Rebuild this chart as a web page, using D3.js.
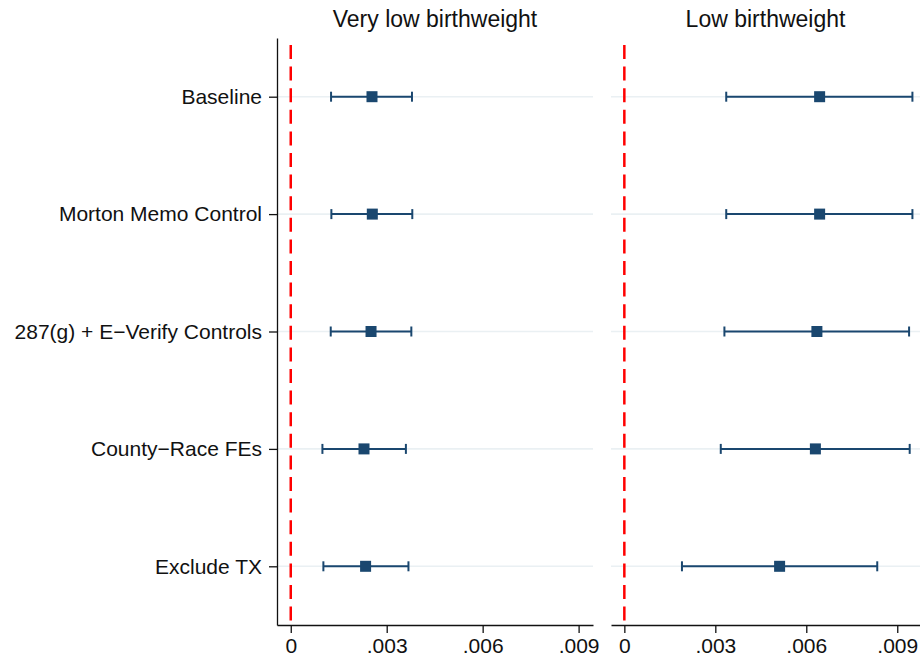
<html lang="en">
<head>
  <title>Birthweight Coefficients</title>
  <meta charset="utf-8">
  <script src="https://cdn.jsdelivr.net/npm/d3@7"></script>
  <style>
    body { margin: 0; background: white; }
    svg text { font-family: 'Liberation Sans', Arial, Helvetica, sans-serif; fill: #111; }
    .panel_title { font-size: 23px; text-anchor: middle; }
    .axis text { font-size: 21px; fill: #111; }
    .axis path, .axis line { stroke: #111; stroke-width: 1.3; }
  </style>
</head>

<body>
  <svg id = 'canvas' width = '920' height = '662'></svg>
</body>

<script>

// specifications (rows), top to bottom
var specs = ['Baseline', 'Morton Memo Control', '287(g) + E\u2212Verify Controls', 'County\u2212Race FEs', 'Exclude TX'];

// Very low birthweight: point estimate and CI bounds
var vlbw_est = [0.00254, 0.00255, 0.00251, 0.00229, 0.00234];
var vlbw_lo  = [0.00126, 0.00127, 0.00125, 0.00099, 0.00102];
var vlbw_hi  = [0.00379, 0.00380, 0.00377, 0.00360, 0.00368];

// Low birthweight: point estimate and CI bounds
var lbw_est = [0.00644, 0.00644, 0.00635, 0.00630, 0.00512];
var lbw_lo  = [0.00336, 0.00336, 0.00330, 0.00318, 0.00190];
var lbw_hi  = [0.00950, 0.00950, 0.00939, 0.00941, 0.00834];

var x_ticks = [0, 0.003, 0.006, 0.009];
var panel_titles = ['Very low birthweight', 'Low birthweight'];

var navy = '#1a476f';

/*******************************************************************************/

var svg = d3.select('#canvas');
var plot_top = 38, plot_bottom = 625;

var y_scale = d3.scalePoint().domain(specs).range([plot_top, plot_bottom]).padding(0.5);

var fmt = function(d){ return d === 0 ? '0' : d3.format('.3f')(d).replace(/^0/, ''); };

function rowsOf(est, lo, hi){
  return specs.map(function(s, i){ return { spec: s, est: est[i], lo: lo[i], hi: hi[i] }; });
}

function drawPanel(opts){
  var x = d3.scaleLinear().domain(opts.domain).range(opts.range);
  var g = svg.append('g');

  // light horizontal grid at each row
  g.selectAll('.grid').data(specs).enter().append('line')
    .attr('x1', opts.range[0]).attr('x2', opts.range[1])
    .attr('y1', function(d){ return y_scale(d); }).attr('y2', function(d){ return y_scale(d); })
    .style('stroke', '#eaf0f3').style('stroke-width', 1.6);

  // x axis
  g.append('g').attr('class', 'axis')
    .attr('transform', 'translate(0,' + plot_bottom + ')')
    .call(d3.axisBottom(x).tickValues(x_ticks).tickFormat(fmt).tickSize(8).tickSizeOuter(0).tickPadding(5));

  // y axis only on the first panel
  if(opts.y_axis){
    g.append('g').attr('class', 'axis')
      .attr('transform', 'translate(' + opts.range[0] + ',0)')
      .call(d3.axisLeft(y_scale).tickSize(8).tickSizeOuter(0).tickPadding(7));
  }

  // zero reference line
  g.append('line')
    .attr('x1', x(0)).attr('x2', x(0)).attr('y1', plot_top).attr('y2', plot_bottom)
    .style('stroke', '#ff0000').style('stroke-width', 2.5)
    .style('stroke-dasharray', '14,7.6').style('stroke-dashoffset', 14.6);

  var rows = g.selectAll('.row').data(opts.rows).enter().append('g').attr('class', 'row');

  rows.append('line')
    .attr('x1', function(d){ return x(d.lo); }).attr('x2', function(d){ return x(d.hi); })
    .attr('y1', function(d){ return y_scale(d.spec); }).attr('y2', function(d){ return y_scale(d.spec); })
    .style('stroke', navy).style('stroke-width', 2);

  ['lo', 'hi'].forEach(function(k){
    rows.append('line')
      .attr('x1', function(d){ return x(d[k]); }).attr('x2', function(d){ return x(d[k]); })
      .attr('y1', function(d){ return y_scale(d.spec) - 5; }).attr('y2', function(d){ return y_scale(d.spec) + 5; })
      .style('stroke', navy).style('stroke-width', 2);
  });

  rows.append('rect')
    .attr('x', function(d){ return x(d.est) - 5.5; }).attr('y', function(d){ return y_scale(d.spec) - 5.5; })
    .attr('width', 11).attr('height', 11)
    .style('fill', navy);

  svg.append('text').attr('class', 'panel_title')
    .attr('x', (opts.range[0] + opts.range[1]) / 2).attr('y', 27)
    .text(opts.title);
}

drawPanel({ title: panel_titles[0], domain: [-0.00043, 0.00945], range: [277, 593], y_axis: true,
            rows: rowsOf(vlbw_est, vlbw_lo, vlbw_hi) });
drawPanel({ title: panel_titles[1], domain: [-0.00044, 0.00975], range: [611, 920], y_axis: false,
            rows: rowsOf(lbw_est, lbw_lo, lbw_hi) });

</script>
</html>
